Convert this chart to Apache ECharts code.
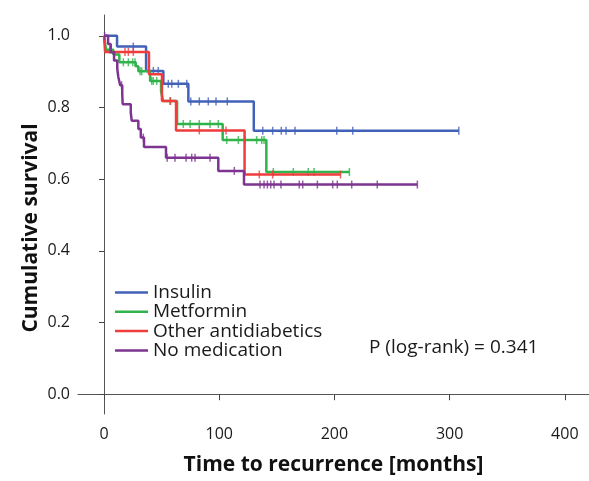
<!DOCTYPE html>
<html>
<head>
<meta charset="utf-8">
<script src="https://cdn.jsdelivr.net/npm/echarts@6/dist/echarts.min.js"></script>
<style>html,body{margin:0;padding:0;background:#fff;}#c{width:589px;height:481px;}</style>
</head>
<body>
<div id="c"></div>
<script>
// Kaplan-Meier step data (time in months, cumulative survival after event)
const groupNames = ['Insulin', 'Metformin', 'Other antidiabetics', 'No medication'];

const insulinT = [0, 11.3, 36.5, 51.5, 73.2, 130, 308];
const insulinS = [1.0, 0.970, 0.902, 0.866, 0.817, 0.735, 0.735];
const insulinCens = [25.4, 42.8, 47.1, 55.8, 58.8, 64.5, 71.8, 75.3, 82.7, 90.5, 97.2, 107, 137.8, 146.4, 153.9, 158, 165.8, 202, 215.9, 308];

const metforminT = [0, 1.7, 8.1, 13.3, 27.5, 29.8, 40, 49.5, 51.2, 63.4, 103, 140.9, 213];
const metforminS = [1.0, 0.961, 0.948, 0.926, 0.915, 0.901, 0.874, 0.846, 0.818, 0.754, 0.709, 0.620, 0.620];
const metforminCens = [5, 16.8, 21.1, 24.9, 26.9, 31.3, 32.7, 41.4, 42.8, 45.7, 57.3, 68.8, 74.7, 82.7, 92, 99.2, 106.5, 116.6, 122.4, 132.5, 136.9, 138.9, 147, 164.3, 177.3, 182.3, 213];

const otherT = [0, 0.9, 39, 50.3, 62.5, 122, 205.3];
const otherS = [1.0, 0.955, 0.893, 0.818, 0.736, 0.613, 0.613];
const otherCens = [18.2, 21.1, 25.4, 57.7, 82.7, 105.9, 134.8, 146.4, 205.3];

const noMedT = [0, 3.5, 5.8, 8.7, 11.5, 12.4, 14, 15.8, 16.2, 23.2, 24, 29.8, 31.9, 34.7, 53.8, 99.2, 121.5, 272];
const noMedS = [1.0, 0.977, 0.954, 0.931, 0.908, 0.885, 0.862, 0.839, 0.809, 0.786, 0.763, 0.740, 0.716, 0.690, 0.660, 0.623, 0.585, 0.585];
const noMedCens = [0.5, 15.2, 34.1, 54.8, 61.6, 71.2, 76.1, 79, 92, 113.1, 135.4, 138.9, 141.8, 144.7, 147.6, 153.6, 169.5, 172.5, 185.2, 198.5, 202.5, 215, 237.2, 272];

const xTicks = [0, 100, 200, 300, 400];
const yTicks = [0, 0.2, 0.4, 0.6, 0.8, 1.0];

const colors = ['#4262b8', '#2fb34a', '#f03c3c', '#7d3591'];
const groups = [
  [insulinT, insulinS, insulinCens],
  [metforminT, metforminS, metforminCens],
  [otherT, otherS, otherCens],
  [noMedT, noMedS, noMedCens]
];

function survAt(T, S, t) {
  let v = S[0];
  for (let i = 0; i < T.length; i++) { if (T[i] <= t) v = S[i]; }
  return v;
}

const FONT = 'Open Sans';
const series = [];
groups.forEach((g, k) => {
  const [T, S, C] = g;
  series.push({
    name: groupNames[k], type: 'line', step: 'end', symbol: 'none',
    data: T.map((t, i) => [t, S[i]]),
    lineStyle: { color: colors[k], width: 2.5 }, itemStyle: { color: colors[k] },
    z: 2 + k, animation: false
  });
  series.push({
    name: groupNames[k] + ' censored', type: 'scatter', symbol: 'rect', symbolSize: [1.5, 8],
    data: C.map(t => [t, survAt(T, S, t)]),
    itemStyle: { color: colors[k] }, z: 2 + k, animation: false, silent: true
  });
});

const chart = echarts.init(document.getElementById('c'), null, { renderer: 'canvas' });
chart.setOption({
  backgroundColor: '#fff',
  animation: false,
  grid: { left: 78, right: 0, top: 15, bottom: 63 },
  xAxis: {
    type: 'value', min: -22.6, max: 421,
    axisLine: { lineStyle: { color: '#555', width: 1 } },
    axisTick: { show: true, length: 6, lineStyle: { color: '#444' }, customValues: xTicks },
    axisLabel: { customValues: xTicks, color: '#1a1a1a', fontSize: 16, fontFamily: FONT, margin: 12 },
    splitLine: { show: false },
    name: 'Time to recurrence [months]', nameLocation: 'middle', nameGap: 41,
    nameTextStyle: { fontSize: 21, fontWeight: 'bold', color: '#111', fontFamily: FONT }
  },
  yAxis: {
    type: 'value', min: -0.0552, max: 1.058,
    axisLine: { show: true, lineStyle: { color: '#555', width: 1 } },
    axisTick: { show: true, length: 5, lineStyle: { color: '#444' }, customValues: yTicks },
    axisLabel: { customValues: yTicks, color: '#1a1a1a', fontSize: 16, fontFamily: FONT, margin: 8,
      formatter: v => v.toFixed(1) },
    splitLine: { show: false }
  },
  legend: {
    data: groupNames, orient: 'vertical', left: 115, top: 283, padding: 0,
    icon: 'rect', itemWidth: 33, itemHeight: 2.5, itemGap: 0.3,
    textStyle: { fontSize: 19, fontFamily: FONT, color: '#1a1a1a', lineHeight: 18 },
    selectedMode: false
  },
  graphic: [
    { type: 'text', left: 369, top: 338, style: { text: 'P (log-rank) = 0.341', fontSize: 19, fontFamily: FONT, fill: '#1a1a1a' } },
    { type: 'text', x: 31, y: 228, rotation: Math.PI / 2,
      style: { text: 'Cumulative survival', fontSize: 21, fontWeight: 'bold', fontFamily: FONT, fill: '#111', textAlign: 'center', textVerticalAlign: 'middle' } }
  ],
  series: series
});
</script>
</body>
</html>
